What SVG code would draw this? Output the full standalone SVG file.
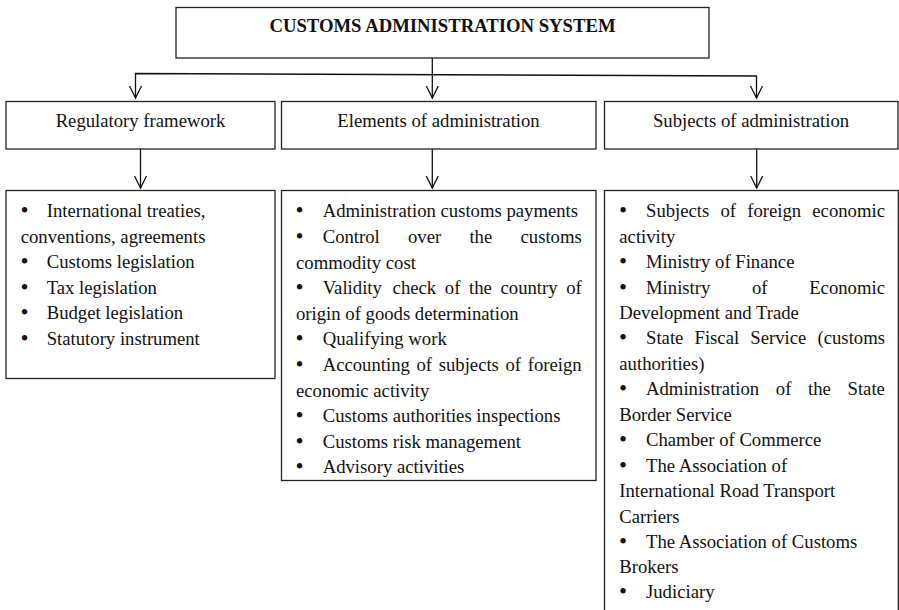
<svg xmlns="http://www.w3.org/2000/svg" width="899" height="610" viewBox="0 0 899 610">
<defs>
<style>
.box{fill:#fff;stroke:#222;stroke-width:1.3}
.ln{fill:none;stroke:#111;stroke-width:1.3}
.ah{fill:none;stroke:#111;stroke-width:1.3;stroke-linejoin:miter}
text{font-family:"Liberation Serif","Times New Roman",serif;font-size:18.7px;fill:#111}
text.b{font-size:23px}
.title{font-weight:bold}
.c{text-anchor:middle}
</style>
</defs>
<rect width="899" height="610" fill="#fff"/>
<g id="connectors">
<polyline class="ln" points="135.5,98 135.5,73.5 756.5,76 756.5,98"/>
<line class="ln" x1="432.3" y1="58" x2="432.3" y2="98"/>
<polyline class="ah" points="129.5,86 135.5,98 141.5,86"/>
<polyline class="ah" points="426.3,86 432.3,98 438.3,86"/>
<polyline class="ah" points="750.5,86 756.5,98 762.5,86"/>
<line class="ln" x1="140.5" y1="149" x2="140.5" y2="188"/>
<line class="ln" x1="432.3" y1="149" x2="432.3" y2="188"/>
<line class="ln" x1="756.7" y1="149" x2="756.7" y2="188"/>
<polyline class="ah" points="134.5,176 140.5,188 146.5,176"/>
<polyline class="ah" points="426.3,176 432.3,188 438.3,176"/>
<polyline class="ah" points="750.7,176 756.7,188 762.7,176"/>
</g>
<g id="root">
<rect class="box" x="176" y="7.5" width="533" height="50.5"/>
<text class="title c" x="442.5" y="31.7">CUSTOMS ADMINISTRATION SYSTEM</text>
</g>
<g id="regulatory">
<rect class="box" x="6" y="101.5" width="269" height="47.5"/>
<text class="c" x="140.5" y="126.7">Regulatory framework</text>
</g>
<g id="elements">
<rect class="box" x="281.5" y="101.5" width="314.5" height="47.5"/>
<text class="c" x="438.5" y="126.7">Elements of administration</text>
</g>
<g id="subjects">
<rect class="box" x="604.5" y="101.5" width="293.5" height="47.5"/>
<text class="c" x="751" y="126.7">Subjects of administration</text>
</g>
<g id="regulatory-list">
<rect class="box" x="6" y="190.5" width="269" height="188"/>
<text class="b" x="20.5" y="218">•</text><text x="46.7" y="217">International treaties,</text>
<text x="20.7" y="242.6">conventions, agreements</text>
<text class="b" x="20.5" y="269.2">•</text><text x="46.7" y="268.2">Customs legislation</text>
<text class="b" x="20.5" y="294.8">•</text><text x="46.7" y="293.8">Tax legislation</text>
<text class="b" x="20.5" y="320.4">•</text><text x="46.7" y="319.4">Budget legislation</text>
<text class="b" x="20.5" y="346">•</text><text x="46.7" y="345">Statutory instrument</text>
</g>
<g id="elements-list">
<rect class="box" x="281.5" y="190.5" width="314.5" height="290"/>
<text class="b" x="295.5" y="218.3">•</text><text x="322.7" y="217.3">Administration customs payments</text>
<text class="b" x="295.5" y="243.9">•</text><text y="242.9"><tspan x="322.7">Control</tspan><tspan x="408">over</tspan><tspan x="469.4">the</tspan><tspan x="520.5">customs</tspan></text>
<text x="296" y="268.5">commodity cost</text>
<text class="b" x="295.5" y="295.1">•</text><text y="294.1"><tspan x="322.7">Validity</tspan><tspan x="392.6">check</tspan><tspan x="444.8">of</tspan><tspan x="469">the</tspan><tspan x="500.5">country</tspan><tspan x="566.2">of</tspan></text>
<text x="296" y="319.7">origin of goods determination</text>
<text class="b" x="295.5" y="346.3">•</text><text x="322.7" y="345.3">Qualifying work</text>
<text class="b" x="295.5" y="371.9">•</text><text y="370.9"><tspan x="322.7">Accounting</tspan><tspan x="416.5">of</tspan><tspan x="438.7">subjects</tspan><tspan x="505.5">of</tspan><tspan x="527.7">foreign</tspan></text>
<text x="296" y="396.5">economic activity</text>
<text class="b" x="295.5" y="423.1">•</text><text x="322.7" y="422.1">Customs authorities inspections</text>
<text class="b" x="295.5" y="448.7">•</text><text x="322.7" y="447.7">Customs risk management</text>
<text class="b" x="295.5" y="474.3">•</text><text x="322.7" y="473.3">Advisory activities</text>
</g>
<g id="subjects-list">
<rect class="box" x="604.5" y="190.5" width="293.8" height="430"/>
<text class="b" x="619" y="218.3">•</text><text y="217.3"><tspan x="646">Subjects</tspan><tspan x="720.5">of</tspan><tspan x="747.2">foreign</tspan><tspan x="812.3">economic</tspan></text>
<text x="619.3" y="242.7">activity</text>
<text class="b" x="619" y="269.1">•</text><text x="646" y="268.1">Ministry of Finance</text>
<text class="b" x="619" y="294.5">•</text><text y="293.5"><tspan x="646">Ministry</tspan><tspan x="752">of</tspan><tspan x="809.2">Economic</tspan></text>
<text x="619.3" y="318.9">Development and Trade</text>
<text class="b" x="619" y="345.3">•</text><text y="344.3"><tspan x="646">State</tspan><tspan x="694.5">Fiscal</tspan><tspan x="750.3">Service</tspan><tspan x="817.5">(customs</tspan></text>
<text x="619.3" y="369.7">authorities)</text>
<text class="b" x="619" y="396.1">•</text><text y="395.1"><tspan x="646">Administration</tspan><tspan x="775.8">of</tspan><tspan x="808">the</tspan><tspan x="847.5">State</tspan></text>
<text x="619.3" y="420.5">Border Service</text>
<text class="b" x="619" y="447.3">•</text><text x="646" y="446.3">Chamber of Commerce</text>
<text class="b" x="619" y="472.7">•</text><text x="646" y="471.7">The Association of</text>
<text x="619.3" y="497.1">International Road Transport</text>
<text x="619.3" y="522.5">Carriers</text>
<text class="b" x="619" y="548.9">•</text><text x="646" y="547.9">The Association of Customs</text>
<text x="619.3" y="573.1">Brokers</text>
<text class="b" x="619" y="599.3">•</text><text x="646" y="598.3">Judiciary</text>
</g>
</svg>
